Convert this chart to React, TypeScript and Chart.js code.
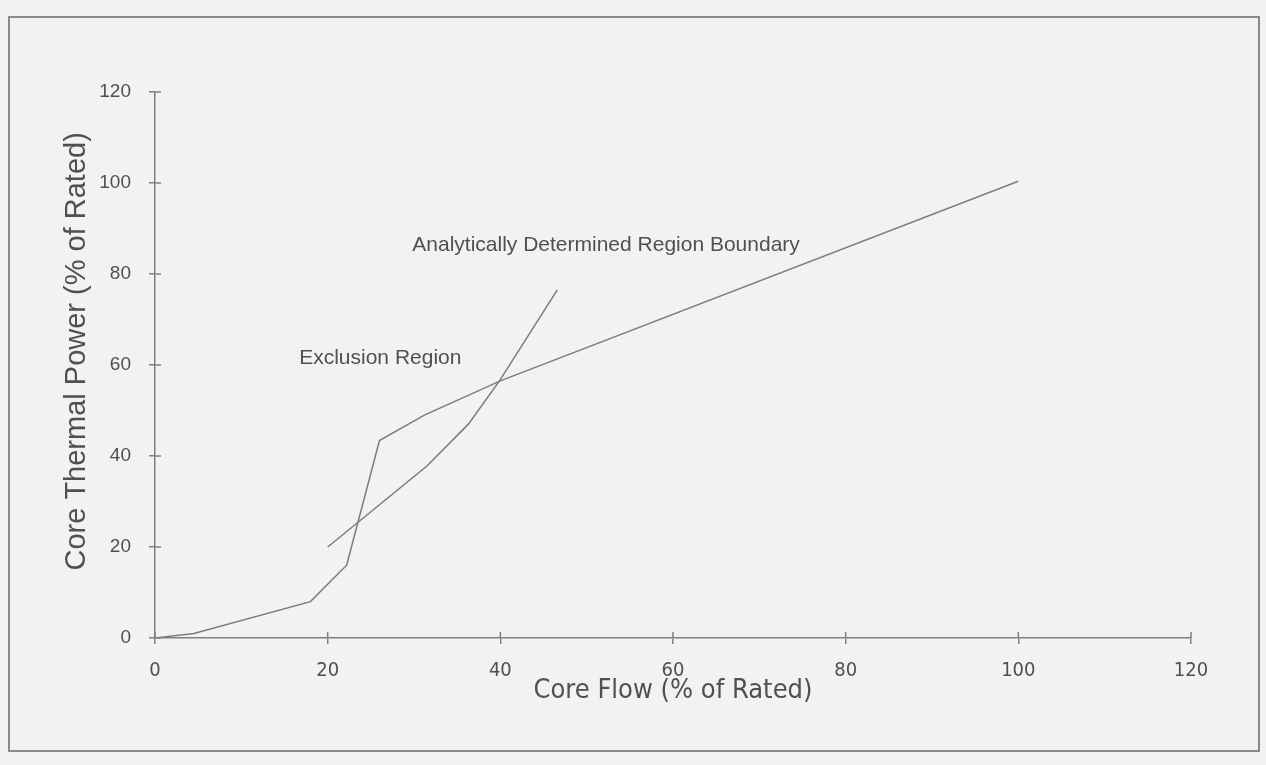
import React, { useEffect, useRef } from "react";
import { Chart, registerables } from "chart.js";

Chart.register(...registerables);

// ---- data ----
const exclusionFlow = [0, 4.5, 18, 22.2, 26, 31.2, 40, 100];
const exclusionPower = [0, 1, 8, 16, 43.4, 49, 56.5, 100.4];

const boundaryFlow = [20, 31.5, 36.3, 39.9, 46.6];
const boundaryPower = [20, 37.8, 47, 56.5, 76.5];

const xTickValues = [0, 20, 40, 60, 80, 100, 120];
const yTickValues = [0, 20, 40, 60, 80, 100, 120];

const xTitle = "Core Flow (% of Rated)";
const yTitle = "Core Thermal Power (% of Rated)";

const noteTexts = ["Exclusion Region", "Analytically Determined Region Boundary"];
const noteFlow = [16.7, 29.8];
const notePower = [60.2, 85];

// ---- styles ----
const BG = "#f2f2f2";
const LINE = "#7c7c7c";
const AXIS = "#808080";
const TEXT = "#505050";
const SANS = '"Liberation Sans", Arial, sans-serif';
const NARROW = '"DejaVu Sans Condensed", "Liberation Sans Narrow", "Liberation Sans", Arial, sans-serif';

const decorPlugin = {
  id: "decor",
  afterDraw(chart: any) {
    const ctx = chart.ctx;
    const xs = chart.scales.x;
    const ys = chart.scales.y;
    ctx.save();
    ctx.strokeStyle = AXIS;
    ctx.lineWidth = 1.5;
    xs.ticks.forEach((_: any, i: number) => {
      const px = xs.getPixelForTick(i);
      ctx.beginPath();
      ctx.moveTo(px, xs.top);
      ctx.lineTo(px, xs.top - 6);
      ctx.stroke();
    });
    ys.ticks.forEach((_: any, i: number) => {
      const py = ys.getPixelForTick(i);
      ctx.beginPath();
      ctx.moveTo(ys.right, py);
      ctx.lineTo(ys.right + 6, py);
      ctx.stroke();
    });
    ctx.fillStyle = TEXT;
    ctx.font = `21px ${SANS}`;
    ctx.textAlign = "left";
    ctx.textBaseline = "alphabetic";
    noteTexts.forEach((t, i) => {
      ctx.fillText(t, xs.getPixelForValue(noteFlow[i]), ys.getPixelForValue(notePower[i]));
    });
    // y-axis title, centred a little above the middle of the axis as in the reference
    ctx.save();
    ctx.translate(ys.left + 77, ys.getPixelForValue(63));
    ctx.rotate(-Math.PI / 2);
    ctx.textAlign = "center";
    ctx.textBaseline = "middle";
    ctx.font = `29px ${SANS}`;
    ctx.fillText(yTitle, 0, 0);
    ctx.restore();
    ctx.restore();
  },
};

export default function App() {
  const ref = useRef<HTMLCanvasElement | null>(null);

  useEffect(() => {
    if (!ref.current) return;
    const toPts = (xs: number[], ys: number[]) => xs.map((x, i) => ({ x, y: ys[i] }));
    const chart = new Chart(ref.current, {
      type: "scatter",
      data: {
        datasets: [
          {
            data: toPts(exclusionFlow, exclusionPower),
            showLine: true,
            borderColor: LINE,
            borderWidth: 1.5,
            pointRadius: 0,
            tension: 0,
          },
          {
            data: toPts(boundaryFlow, boundaryPower),
            showLine: true,
            borderColor: LINE,
            borderWidth: 1.5,
            pointRadius: 0,
            tension: 0,
          },
        ],
      },
      options: {
        animation: false,
        responsive: false,
        devicePixelRatio: 1,
        layout: { padding: { top: 92, right: 75, left: 0, bottom: 0 } },
        plugins: { legend: { display: false }, tooltip: { enabled: false } },
        scales: {
          x: {
            type: "linear",
            min: 0,
            max: 120,
            afterBuildTicks: (s: any) => {
              s.ticks = xTickValues.map((v) => ({ value: v }));
            },
            afterFit: (s: any) => {
              s.height = 127;
            },
            ticks: {
              color: TEXT,
              font: { family: NARROW, size: 20 },
              padding: 15,
              maxRotation: 0,
            },
            grid: { drawOnChartArea: false, tickLength: 6, color: AXIS, lineWidth: 1.5 },
            border: { color: AXIS, width: 1.5 },
            title: {
              display: true,
              text: xTitle,
              color: TEXT,
              font: { family: NARROW, size: 27 },
              padding: { top: 0, bottom: 58 },
            },
          },
          y: {
            type: "linear",
            min: 0,
            max: 120,
            afterBuildTicks: (s: any) => {
              s.ticks = yTickValues.map((v) => ({ value: v }));
            },
            afterFit: (s: any) => {
              s.width = 155;
            },
            ticks: {
              color: TEXT,
              font: { family: SANS, size: 19 },
              padding: 18,
            },
            grid: { drawOnChartArea: false, tickLength: 6, color: AXIS, lineWidth: 1.5 },
            border: { color: AXIS, width: 1.5 },
            title: { display: false, text: yTitle },
          },
        },
      },
      plugins: [decorPlugin],
    } as any);
    return () => chart.destroy();
  }, []);

  return (
    <div style={{ position: "fixed", left: 0, top: 0, width: 1266, height: 765, background: BG, overflow: "hidden" }}>
      <div
        style={{
          position: "absolute",
          left: 8,
          top: 16,
          width: 1248,
          height: 732,
          border: "2px solid #8a8a8a",
        }}
      />
      <canvas ref={ref} width={1266} height={765} style={{ position: "absolute", left: 0, top: 0, width: 1266, height: 765 }} />
    </div>
  );
}
